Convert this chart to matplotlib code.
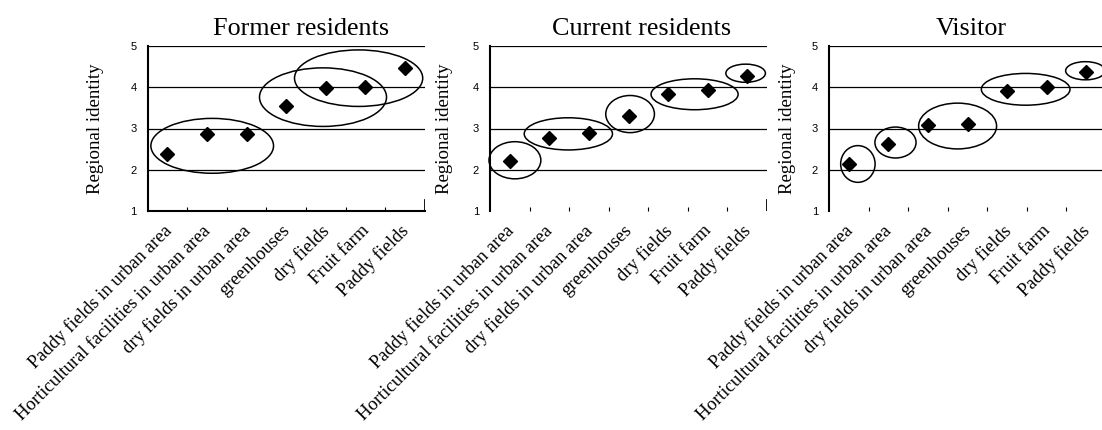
import matplotlib
matplotlib.use("Agg")
import matplotlib.pyplot as plt
import matplotlib.transforms as mtransforms
from matplotlib.patches import Ellipse
import numpy as np

categories = ['Paddy fields in urban area', 'Horticultural facilities in urban area',
              'dry fields in urban area', 'greenhouses', 'dry fields', 'Fruit farm',
              'Paddy fields']
titles = ['Former residents', 'Current residents', 'Visitor']

former = [2.37, 2.86, 2.86, 3.55, 3.99, 4.01, 4.46]
current = [2.22, 2.77, 2.89, 3.31, 3.84, 3.93, 4.27]
visitor = [2.15, 2.63, 3.09, 3.12, 3.91, 4.00, 4.36]

# grouping circles: (x centre in category units, y centre, width, height)
former_groups = [(1.13, 2.58, 3.10, 1.33), (3.93, 3.76, 3.21, 1.42), (4.83, 4.22, 3.24, 1.37)]
current_groups = [(0.13, 2.23, 1.31, 0.90), (1.48, 2.87, 2.23, 0.78), (3.04, 3.35, 1.23, 0.90),
                  (4.67, 3.83, 2.20, 0.75), (5.96, 4.34, 1.00, 0.44)]
visitor_groups = [(0.23, 2.14, 0.87, 0.89), (1.18, 2.66, 1.04, 0.75), (2.75, 3.06, 1.97, 1.11),
                  (4.47, 3.95, 2.24, 0.77), (5.98, 4.40, 1.00, 0.44)]

series = [former, current, visitor]
groups = [former_groups, current_groups, visitor_groups]

serif = 'Liberation Serif'
sans = 'Liberation Sans'

fig = plt.figure(figsize=(11.02, 4.30), dpi=100)
lefts = [147.7, 490, 829]
width = 277
bottom = (430 - 211) / 430
height = (211 - 46) / 430
title_x = [0.553, 0.548, 0.514]
ylab_x = [-44, -37, -33]

x = np.arange(len(categories))
for i in range(3):
    ax = fig.add_axes([lefts[i] / 1102, bottom, width / 1102, height])
    ax.set_xlim(-0.5, 6.5)
    ax.set_ylim(1, 5)
    for yv in [2, 3, 4, 5]:
        ax.axhline(yv, color='black', lw=0.9, zorder=1)
    ax.plot(x, series[i], linestyle='none', marker='D', markersize=7.2,
            color='black', zorder=3)
    for cx, cy, w, h in groups[i]:
        ax.add_patch(Ellipse((cx, cy), w, h, fill=False, edgecolor='black',
                             lw=1.1, clip_on=False, zorder=2))

    ax.spines['right'].set_visible(False)
    ax.spines['top'].set_visible(False)
    ax.spines['left'].set_linewidth(1.5)
    if i == 0:
        ax.spines['bottom'].set_linewidth(1.5)
    else:
        ax.spines['bottom'].set_visible(False)

    ax.set_yticks([1, 2, 3, 4, 5])
    ax.set_yticklabels(['1', '2', '3', '4', '5'], fontfamily=sans, fontsize=8)
    ax.tick_params(axis='y', length=0, pad=8)

    ax.set_xticks(x)
    ax.set_xticklabels(categories, rotation=45, ha='right', va='top',
                       rotation_mode='anchor', fontfamily=serif, fontsize=13.4)
    ax.tick_params(axis='x', which='major', length=0, pad=8)
    ax.set_xticks(np.arange(0.5, 6.5, 1.0), minor=True)
    ax.tick_params(axis='x', which='minor', direction='in', length=3, width=0.8)
    if i < 2:
        ax.axvline(6.5, ymax=0.065, color='black', lw=1.3)
    offset = mtransforms.ScaledTranslation(-5 / 100, 0, fig.dpi_scale_trans)
    for lab in ax.get_xticklabels():
        lab.set_transform(lab.get_transform() + offset)

    ax.set_ylabel('Regional identity', fontfamily=serif, fontsize=13.6)
    ax.yaxis.set_label_coords(ylab_x[i] / width, 0.5)
    ax.set_title(titles[i], fontfamily=serif, fontsize=18.8, x=title_x[i], pad=8)

fig.savefig('out.png', dpi=100)
